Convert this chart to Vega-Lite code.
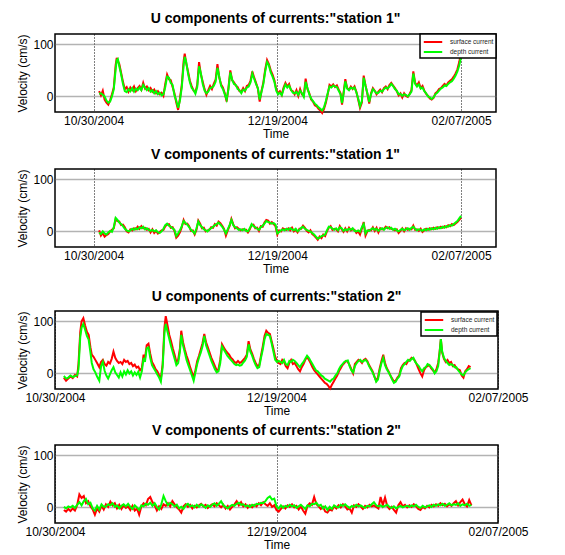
{
"$schema": "https://vega.github.io/schema/vega-lite/v6.json",
"padding": {"left": 16, "top": 11, "right": 5, "bottom": 0},
"config": {
  "font": "Liberation Sans",
  "view": {"stroke": "black", "strokeWidth": 1.5},
  "title": {"fontSize": 14, "fontWeight": "bold", "color": "black", "offset": 7, "anchor": "middle", "frame": "group"},
  "axis": {"labelFontSize": 12, "labelColor": "black", "titleFontSize": 12, "titleFontWeight": "normal", "titleColor": "black", "ticks": false, "domain": false, "grid": true, "labelFlush": false, "labelOverlap": false, "labelBound": false},
  "axisX": {"gridColor": "black", "gridDash": [1, 2], "gridWidth": 1, "gridOpacity": 1, "labelPadding": 3, "titlePadding": 2},
  "axisY": {"gridColor": "#666666", "gridDash": [1, 1], "gridWidth": 1.5, "gridOpacity": 1, "labelPadding": 2, "titlePadding": 3},
  "legend": {"orient": "top-right", "offset": 0, "padding": 2, "strokeColor": "black", "strokeWidth": 1.5, "fillColor": "white", "symbolType": "M-2,0H2", "symbolSize": 85, "symbolStrokeWidth": 1.5, "symbolOffset": 5, "labelFontSize": 6.5, "labelOffset": 11, "rowPadding": 0, "labelColor": "#222222"},
  "line": {"strokeWidth": 2, "clip": true}
},
"datasets": {
"u1": [
{"d":1.5,"s":10,"g":5},{"d":2,"s":2,"g":6},{"d":2.5,"s":11,"g":3},{"d":3,"s":-6,"g":0},{"d":3.5,"s":-12,"g":-8},{"d":4,"s":-16,"g":-12},{"d":4.5,"s":-7,"g":-10},{"d":5,"s":4,"g":0},{"d":5.5,"s":17,"g":14},{"d":6,"s":60,"g":52},{"d":6.3,"s":74,"g":70},{"d":6.6,"s":68,"g":72},{"d":7,"s":62,"g":58},{"d":7.5,"s":45,"g":42},{"d":8,"s":28,"g":24},{"d":8.5,"s":14,"g":10},{"d":9,"s":18,"g":8},{"d":9.5,"s":9,"g":14},{"d":10,"s":17,"g":10},{"d":10.5,"s":12,"g":16},{"d":11,"s":19,"g":9},{"d":11.5,"s":10,"g":15},{"d":12,"s":16,"g":12},{"d":12.5,"s":20,"g":17},{"d":13,"s":13,"g":12},{"d":13.5,"s":26,"g":22},{"d":14,"s":15,"g":17},{"d":14.5,"s":19,"g":12},{"d":15,"s":12,"g":16},{"d":15.5,"s":16,"g":9},{"d":16,"s":9,"g":12},{"d":16.5,"s":13,"g":6},{"d":17,"s":6,"g":10},{"d":17.5,"s":10,"g":4},{"d":18,"s":4,"g":7},{"d":18.5,"s":7,"g":2},{"d":19,"s":1,"g":4},{"d":19.5,"s":24,"g":18},{"d":20,"s":42,"g":38},{"d":20.5,"s":33,"g":36},{"d":21,"s":31,"g":26},{"d":21.5,"s":18,"g":22},{"d":22,"s":6,"g":2},{"d":22.5,"s":-12,"g":-8},{"d":23,"s":-26,"g":-22},{"d":23.5,"s":-4,"g":-8},{"d":24,"s":22,"g":18},{"d":24.5,"s":68,"g":60},{"d":24.8,"s":82,"g":76},{"d":25.2,"s":64,"g":66},{"d":25.7,"s":48,"g":44},{"d":26.2,"s":30,"g":27},{"d":26.7,"s":20,"g":16},{"d":27.2,"s":11,"g":12},{"d":27.7,"s":8,"g":5},{"d":28.2,"s":22,"g":18},{"d":28.7,"s":66,"g":58},{"d":29.2,"s":42,"g":44},{"d":29.7,"s":28,"g":24},{"d":30.2,"s":14,"g":11},{"d":30.7,"s":3,"g":6},{"d":31.2,"s":12,"g":9},{"d":31.7,"s":20,"g":16},{"d":32.2,"s":14,"g":17},{"d":32.7,"s":24,"g":20},{"d":33.2,"s":32,"g":28},{"d":33.7,"s":62,"g":55},{"d":34.2,"s":36,"g":38},{"d":34.7,"s":23,"g":20},{"d":35.2,"s":17,"g":14},{"d":35.7,"s":6,"g":4},{"d":36.2,"s":-10,"g":-6},{"d":36.7,"s":17,"g":14},{"d":37.2,"s":50,"g":46},{"d":37.7,"s":31,"g":32},{"d":38.2,"s":27,"g":24},{"d":38.7,"s":21,"g":22},{"d":39.2,"s":18,"g":14},{"d":39.7,"s":10,"g":12},{"d":40.2,"s":9,"g":6},{"d":40.7,"s":16,"g":13},{"d":41.2,"s":10,"g":11},{"d":41.7,"s":20,"g":17},{"d":42.2,"s":22,"g":19},{"d":42.7,"s":30,"g":27},{"d":43.2,"s":48,"g":44},{"d":43.7,"s":36,"g":34},{"d":44.2,"s":26,"g":24},{"d":44.7,"s":15,"g":16},{"d":45.2,"s":-10,"g":-6},{"d":45.7,"s":11,"g":9},{"d":46.2,"s":27,"g":24},{"d":46.7,"s":52,"g":48},{"d":47.2,"s":70,"g":66},{"d":47.7,"s":62,"g":60},{"d":48.2,"s":50,"g":46},{"d":48.7,"s":42,"g":38},{"d":49.2,"s":31,"g":28},{"d":49.7,"s":14,"g":11},{"d":50.2,"s":6,"g":4},{"d":50.7,"s":10,"g":7},{"d":51.2,"s":3,"g":2},{"d":51.7,"s":17,"g":14},{"d":52.2,"s":26,"g":23},{"d":52.7,"s":19,"g":17},{"d":53.2,"s":24,"g":21},{"d":53.7,"s":12,"g":13},{"d":54.2,"s":10,"g":7},{"d":54.7,"s":4,"g":6},{"d":55.2,"s":12,"g":9},{"d":55.7,"s":1,"g":3},{"d":56.2,"s":14,"g":11},{"d":56.7,"s":4,"g":6},{"d":57.2,"s":1,"g":-1},{"d":57.7,"s":34,"g":28},{"d":58.2,"s":14,"g":16},{"d":58.7,"s":6,"g":4},{"d":59.2,"s":-6,"g":-4},{"d":59.7,"s":-10,"g":-9},{"d":60.2,"s":-17,"g":-14},{"d":60.7,"s":-19,"g":-17},{"d":61.2,"s":-24,"g":-21},{"d":61.7,"s":-27,"g":-24},{"d":62.2,"s":-32,"g":-27},{"d":62.7,"s":-24,"g":-21},{"d":63.2,"s":-12,"g":-9},{"d":63.7,"s":4,"g":6},{"d":64.2,"s":22,"g":19},{"d":64.7,"s":19,"g":17},{"d":65.2,"s":23,"g":21},{"d":65.7,"s":18,"g":19},{"d":66.2,"s":21,"g":18},{"d":66.7,"s":13,"g":11},{"d":67.2,"s":6,"g":4},{"d":67.6,"s":-16,"g":-13},{"d":68,"s":6,"g":4},{"d":68.5,"s":33,"g":29},{"d":69,"s":16,"g":15},{"d":69.5,"s":13,"g":12},{"d":70,"s":19,"g":17},{"d":70.5,"s":14,"g":15},{"d":71,"s":19,"g":17},{"d":71.5,"s":9,"g":8},{"d":72,"s":-6,"g":-4},{"d":72.5,"s":-22,"g":-19},{"d":73,"s":-12,"g":-9},{"d":73.5,"s":40,"g":36},{"d":74,"s":21,"g":20},{"d":74.5,"s":5,"g":6},{"d":75,"s":-14,"g":-11},{"d":75.5,"s":6,"g":4},{"d":76,"s":16,"g":14},{"d":76.5,"s":11,"g":10},{"d":77,"s":4,"g":6},{"d":77.5,"s":9,"g":7},{"d":78,"s":13,"g":11},{"d":78.5,"s":8,"g":9},{"d":79,"s":16,"g":14},{"d":79.5,"s":19,"g":17},{"d":80,"s":14,"g":15},{"d":80.5,"s":22,"g":19},{"d":81,"s":26,"g":24},{"d":81.5,"s":21,"g":20},{"d":82,"s":16,"g":14},{"d":82.5,"s":10,"g":11},{"d":83,"s":2,"g":4},{"d":83.5,"s":6,"g":5},{"d":84,"s":-2,"g":1},{"d":84.5,"s":6,"g":4},{"d":85,"s":1,"g":3},{"d":85.5,"s":-1,"g":0},{"d":86,"s":5,"g":4},{"d":86.5,"s":12,"g":9},{"d":87,"s":48,"g":44},{"d":87.5,"s":26,"g":24},{"d":88,"s":21,"g":19},{"d":88.5,"s":27,"g":23},{"d":89,"s":16,"g":15},{"d":89.5,"s":20,"g":17},{"d":90,"s":11,"g":10},{"d":90.5,"s":5,"g":6},{"d":91,"s":1,"g":0},{"d":91.5,"s":-4,"g":-2},{"d":92,"s":-6,"g":-5},{"d":92.5,"s":-3,"g":-2},{"d":93,"s":6,"g":4},{"d":93.5,"s":9,"g":7},{"d":94,"s":14,"g":11},{"d":94.5,"s":16,"g":15},{"d":95,"s":20,"g":17},{"d":95.5,"s":24,"g":21},{"d":96,"s":21,"g":20},{"d":96.5,"s":27,"g":24},{"d":97,"s":30,"g":27},{"d":97.5,"s":33,"g":29},{"d":98,"s":38,"g":34},{"d":98.5,"s":44,"g":40},{"d":99,"s":52,"g":48},{"d":99.5,"s":66,"g":60},{"d":100,"s":85,"g":76}
],
"v1": [
{"d":1.5,"s":2,"g":-2},{"d":2,"s":-8,"g":-5},{"d":2.5,"s":-3,"g":0},{"d":3,"s":-10,"g":-4},{"d":3.5,"s":-7,"g":-6},{"d":4,"s":-5,"g":-2},{"d":4.5,"s":0,"g":1},{"d":5,"s":3,"g":-1},{"d":5.5,"s":6,"g":8},{"d":6,"s":24,"g":26},{"d":6.5,"s":20,"g":22},{"d":7,"s":19,"g":17},{"d":7.5,"s":12,"g":14},{"d":8,"s":13,"g":10},{"d":8.5,"s":8,"g":5},{"d":9,"s":0,"g":2},{"d":9.5,"s":-2,"g":0},{"d":10,"s":4,"g":2},{"d":10.5,"s":2,"g":5},{"d":11,"s":6,"g":3},{"d":11.5,"s":4,"g":6},{"d":12,"s":9,"g":4},{"d":12.5,"s":5,"g":8},{"d":13,"s":10,"g":6},{"d":13.5,"s":6,"g":9},{"d":14,"s":7,"g":4},{"d":14.5,"s":3,"g":6},{"d":15,"s":5,"g":3},{"d":15.5,"s":-2,"g":1},{"d":16,"s":4,"g":3},{"d":16.5,"s":-3,"g":0},{"d":17,"s":1,"g":2},{"d":17.5,"s":-4,"g":-2},{"d":18,"s":-1,"g":-3},{"d":18.5,"s":2,"g":0},{"d":19,"s":3,"g":5},{"d":19.5,"s":10,"g":12},{"d":20,"s":13,"g":15},{"d":20.5,"s":14,"g":11},{"d":21,"s":7,"g":9},{"d":21.5,"s":8,"g":6},{"d":22,"s":1,"g":3},{"d":22.5,"s":-12,"g":-9},{"d":23,"s":-8,"g":-4},{"d":23.5,"s":-2,"g":2},{"d":24,"s":8,"g":10},{"d":24.5,"s":22,"g":20},{"d":25,"s":14,"g":16},{"d":25.5,"s":15,"g":13},{"d":26,"s":10,"g":8},{"d":26.5,"s":1,"g":3},{"d":27,"s":2,"g":0},{"d":27.5,"s":-6,"g":-4},{"d":28,"s":3,"g":6},{"d":28.5,"s":21,"g":19},{"d":29,"s":15,"g":12},{"d":29.5,"s":6,"g":8},{"d":30,"s":7,"g":4},{"d":30.5,"s":0,"g":2},{"d":31,"s":2,"g":0},{"d":31.5,"s":3,"g":4},{"d":32,"s":8,"g":6},{"d":32.5,"s":7,"g":9},{"d":33,"s":14,"g":12},{"d":33.5,"s":11,"g":14},{"d":34,"s":19,"g":17},{"d":34.5,"s":16,"g":13},{"d":35,"s":11,"g":9},{"d":35.5,"s":5,"g":3},{"d":36,"s":-8,"g":-4},{"d":36.5,"s":2,"g":4},{"d":37,"s":10,"g":12},{"d":37.5,"s":24,"g":22},{"d":38,"s":14,"g":12},{"d":38.5,"s":6,"g":8},{"d":39,"s":8,"g":6},{"d":39.5,"s":5,"g":3},{"d":40,"s":2,"g":4},{"d":40.5,"s":4,"g":2},{"d":41,"s":3,"g":5},{"d":41.5,"s":3,"g":1},{"d":42,"s":-2,"g":0},{"d":42.5,"s":4,"g":6},{"d":43,"s":12,"g":14},{"d":43.5,"s":13,"g":10},{"d":44,"s":6,"g":8},{"d":44.5,"s":7,"g":5},{"d":45,"s":1,"g":3},{"d":45.5,"s":10,"g":8},{"d":46,"s":9,"g":11},{"d":46.5,"s":17,"g":15},{"d":47,"s":22,"g":20},{"d":47.5,"s":21,"g":18},{"d":48,"s":15,"g":17},{"d":48.5,"s":18,"g":15},{"d":49,"s":14,"g":16},{"d":49.5,"s":10,"g":13},{"d":50,"s":-6,"g":-4},{"d":50.5,"s":2,"g":-1},{"d":51,"s":0,"g":2},{"d":51.5,"s":6,"g":4},{"d":52,"s":4,"g":2},{"d":52.5,"s":3,"g":5},{"d":53,"s":6,"g":3},{"d":53.5,"s":2,"g":6},{"d":54,"s":7,"g":4},{"d":54.5,"s":0,"g":2},{"d":55,"s":3,"g":5},{"d":55.5,"s":-2,"g":0},{"d":56,"s":5,"g":3},{"d":56.5,"s":5,"g":7},{"d":57,"s":11,"g":9},{"d":57.5,"s":7,"g":5},{"d":58,"s":1,"g":3},{"d":58.5,"s":-2,"g":1},{"d":59,"s":2,"g":0},{"d":59.5,"s":-5,"g":-3},{"d":60,"s":-8,"g":-6},{"d":60.5,"s":-12,"g":-10},{"d":61,"s":-16,"g":-14},{"d":61.5,"s":-10,"g":-12},{"d":62,"s":-13,"g":-9},{"d":62.5,"s":-6,"g":-8},{"d":63,"s":-9,"g":-6},{"d":63.5,"s":0,"g":2},{"d":64,"s":7,"g":9},{"d":64.5,"s":10,"g":8},{"d":65,"s":3,"g":5},{"d":65.5,"s":5,"g":3},{"d":66,"s":4,"g":6},{"d":66.5,"s":0,"g":2},{"d":67,"s":10,"g":8},{"d":67.5,"s":4,"g":6},{"d":68,"s":-1,"g":1},{"d":68.5,"s":6,"g":4},{"d":69,"s":0,"g":2},{"d":69.5,"s":7,"g":5},{"d":70,"s":2,"g":3},{"d":70.5,"s":4,"g":6},{"d":71,"s":3,"g":1},{"d":71.5,"s":-3,"g":0},{"d":72,"s":0,"g":2},{"d":72.5,"s":-6,"g":-1},{"d":73,"s":5,"g":8},{"d":73.5,"s":18,"g":14},{"d":74,"s":-8,"g":-4},{"d":74.5,"s":0,"g":2},{"d":75,"s":3,"g":1},{"d":75.5,"s":2,"g":4},{"d":76,"s":8,"g":6},{"d":76.5,"s":1,"g":3},{"d":77,"s":7,"g":5},{"d":77.5,"s":-2,"g":1},{"d":78,"s":6,"g":4},{"d":78.5,"s":4,"g":6},{"d":79,"s":5,"g":3},{"d":79.5,"s":9,"g":7},{"d":80,"s":6,"g":8},{"d":80.5,"s":8,"g":5},{"d":81,"s":5,"g":7},{"d":81.5,"s":4,"g":3},{"d":82,"s":2,"g":5},{"d":82.5,"s":4,"g":2},{"d":83,"s":-3,"g":0},{"d":83.5,"s":1,"g":3},{"d":84,"s":6,"g":5},{"d":84.5,"s":0,"g":2},{"d":85,"s":6,"g":4},{"d":85.5,"s":3,"g":6},{"d":86,"s":5,"g":3},{"d":86.5,"s":4,"g":7},{"d":87,"s":11,"g":9},{"d":87.5,"s":3,"g":5},{"d":88,"s":4,"g":2},{"d":88.5,"s":1,"g":4},{"d":89,"s":5,"g":3},{"d":89.5,"s":-1,"g":1},{"d":90,"s":2,"g":4},{"d":90.5,"s":5,"g":2},{"d":91,"s":3,"g":5},{"d":91.5,"s":6,"g":3},{"d":92,"s":4,"g":6},{"d":92.5,"s":7,"g":4},{"d":93,"s":5,"g":7},{"d":93.5,"s":8,"g":5},{"d":94,"s":6,"g":8},{"d":94.5,"s":9,"g":6},{"d":95,"s":7,"g":9},{"d":95.5,"s":10,"g":7},{"d":96,"s":8,"g":10},{"d":96.5,"s":12,"g":9},{"d":97,"s":10,"g":12},{"d":97.5,"s":14,"g":11},{"d":98,"s":12,"g":14},{"d":98.5,"s":15,"g":17},{"d":99,"s":18,"g":20},{"d":99.5,"s":22,"g":25},{"d":100,"s":26,"g":30}
],
"u2": [
{"d":2,"s":-8,"g":-5},{"d":2.5,"s":-14,"g":-10},{"d":3,"s":-10,"g":-8},{"d":3.5,"s":-6,"g":-4},{"d":4,"s":-9,"g":-7},{"d":4.5,"s":-3,"g":-5},{"d":5,"s":-6,"g":-4},{"d":5.3,"s":18,"g":8},{"d":5.7,"s":80,"g":70},{"d":6,"s":100,"g":88},{"d":6.4,"s":106,"g":95},{"d":6.8,"s":92,"g":84},{"d":7.2,"s":80,"g":72},{"d":7.6,"s":74,"g":65},{"d":8,"s":50,"g":40},{"d":8.3,"s":36,"g":20},{"d":8.7,"s":32,"g":8},{"d":9.1,"s":26,"g":2},{"d":9.5,"s":20,"g":-6},{"d":10,"s":12,"g":-14},{"d":10.4,"s":22,"g":14},{"d":10.8,"s":26,"g":22},{"d":11.2,"s":18,"g":5},{"d":11.6,"s":15,"g":-4},{"d":12,"s":22,"g":-10},{"d":12.4,"s":19,"g":-2},{"d":12.8,"s":28,"g":6},{"d":13.2,"s":42,"g":12},{"d":13.6,"s":30,"g":2},{"d":14,"s":24,"g":-3},{"d":14.4,"s":20,"g":-8},{"d":14.8,"s":22,"g":2},{"d":15.2,"s":18,"g":-6},{"d":15.6,"s":26,"g":4},{"d":16,"s":22,"g":-2},{"d":16.4,"s":24,"g":6},{"d":16.8,"s":18,"g":0},{"d":17.2,"s":20,"g":4},{"d":17.6,"s":14,"g":-4},{"d":18,"s":17,"g":2},{"d":18.4,"s":11,"g":-3},{"d":18.8,"s":13,"g":3},{"d":19.2,"s":6,"g":-8},{"d":19.6,"s":10,"g":4},{"d":20,"s":36,"g":30},{"d":20.3,"s":28,"g":22},{"d":20.7,"s":54,"g":48},{"d":21.1,"s":57,"g":50},{"d":21.5,"s":38,"g":30},{"d":21.9,"s":22,"g":16},{"d":22.3,"s":16,"g":10},{"d":22.7,"s":8,"g":4},{"d":23.1,"s":4,"g":-2},{"d":23.5,"s":-4,"g":-8},{"d":23.9,"s":-10,"g":-16},{"d":24.3,"s":18,"g":12},{"d":24.7,"s":88,"g":78},{"d":25,"s":110,"g":95},{"d":25.4,"s":92,"g":80},{"d":25.8,"s":74,"g":66},{"d":26.2,"s":62,"g":52},{"d":26.6,"s":48,"g":40},{"d":27,"s":36,"g":28},{"d":27.4,"s":22,"g":16},{"d":27.8,"s":26,"g":20},{"d":28.2,"s":48,"g":42},{"d":28.5,"s":82,"g":74},{"d":28.9,"s":60,"g":54},{"d":29.3,"s":46,"g":40},{"d":29.7,"s":34,"g":26},{"d":30.1,"s":24,"g":16},{"d":30.5,"s":12,"g":6},{"d":30.9,"s":2,"g":-4},{"d":31.3,"s":-8,"g":-14},{"d":31.7,"s":6,"g":2},{"d":32.1,"s":24,"g":18},{"d":32.5,"s":34,"g":30},{"d":32.9,"s":46,"g":40},{"d":33.3,"s":58,"g":52},{"d":33.7,"s":76,"g":72},{"d":34.1,"s":60,"g":54},{"d":34.5,"s":50,"g":44},{"d":34.9,"s":40,"g":34},{"d":35.3,"s":30,"g":24},{"d":35.7,"s":22,"g":16},{"d":36.1,"s":14,"g":8},{"d":36.5,"s":6,"g":2},{"d":36.9,"s":8,"g":4},{"d":37.3,"s":26,"g":20},{"d":37.7,"s":56,"g":52},{"d":38.1,"s":50,"g":46},{"d":38.5,"s":44,"g":40},{"d":38.9,"s":40,"g":34},{"d":39.3,"s":36,"g":30},{"d":39.7,"s":30,"g":26},{"d":40.1,"s":27,"g":22},{"d":40.5,"s":22,"g":18},{"d":40.9,"s":20,"g":16},{"d":41.3,"s":24,"g":17},{"d":41.7,"s":20,"g":15},{"d":42.1,"s":22,"g":16},{"d":42.5,"s":26,"g":21},{"d":42.9,"s":30,"g":25},{"d":43.3,"s":36,"g":32},{"d":43.7,"s":62,"g":56},{"d":44.1,"s":46,"g":42},{"d":44.5,"s":38,"g":34},{"d":44.9,"s":28,"g":24},{"d":45.3,"s":20,"g":16},{"d":45.7,"s":14,"g":10},{"d":46.1,"s":16,"g":12},{"d":46.5,"s":34,"g":30},{"d":46.9,"s":52,"g":46},{"d":47.3,"s":72,"g":66},{"d":47.7,"s":82,"g":76},{"d":48.1,"s":78,"g":74},{"d":48.5,"s":76,"g":72},{"d":48.9,"s":62,"g":58},{"d":49.3,"s":48,"g":42},{"d":49.7,"s":32,"g":26},{"d":50.1,"s":24,"g":22},{"d":50.5,"s":20,"g":24},{"d":50.9,"s":18,"g":22},{"d":51.3,"s":26,"g":20},{"d":51.7,"s":22,"g":26},{"d":52.1,"s":14,"g":18},{"d":52.5,"s":10,"g":16},{"d":52.9,"s":20,"g":24},{"d":53.3,"s":26,"g":22},{"d":53.7,"s":18,"g":26},{"d":54.1,"s":20,"g":24},{"d":54.5,"s":14,"g":20},{"d":54.9,"s":8,"g":16},{"d":55.3,"s":4,"g":12},{"d":55.7,"s":12,"g":18},{"d":56.1,"s":18,"g":22},{"d":56.5,"s":26,"g":28},{"d":56.9,"s":32,"g":34},{"d":57.3,"s":26,"g":30},{"d":57.7,"s":20,"g":24},{"d":58.1,"s":12,"g":18},{"d":58.5,"s":6,"g":12},{"d":58.9,"s":2,"g":6},{"d":59.3,"s":-2,"g":4},{"d":59.7,"s":-6,"g":0},{"d":60.1,"s":-10,"g":-4},{"d":60.5,"s":-14,"g":-6},{"d":60.9,"s":-18,"g":-10},{"d":61.3,"s":-20,"g":-12},{"d":61.7,"s":-24,"g":-14},{"d":62.1,"s":-29,"g":-16},{"d":62.5,"s":-22,"g":-12},{"d":62.9,"s":-16,"g":-10},{"d":63.3,"s":-10,"g":-4},{"d":63.7,"s":-4,"g":0},{"d":64.1,"s":4,"g":8},{"d":64.5,"s":10,"g":14},{"d":64.9,"s":16,"g":18},{"d":65.3,"s":20,"g":22},{"d":65.7,"s":24,"g":24},{"d":66.1,"s":22,"g":25},{"d":66.5,"s":16,"g":14},{"d":66.9,"s":8,"g":6},{"d":67.3,"s":0,"g":2},{"d":67.7,"s":18,"g":14},{"d":68.1,"s":22,"g":20},{"d":68.5,"s":26,"g":24},{"d":68.9,"s":24,"g":26},{"d":69.3,"s":20,"g":22},{"d":69.7,"s":26,"g":24},{"d":70.1,"s":28,"g":26},{"d":70.5,"s":24,"g":22},{"d":70.9,"s":16,"g":14},{"d":71.3,"s":10,"g":8},{"d":71.7,"s":4,"g":2},{"d":72.1,"s":-6,"g":-6},{"d":72.5,"s":-14,"g":-16},{"d":72.9,"s":-8,"g":-12},{"d":73.3,"s":10,"g":6},{"d":73.7,"s":24,"g":20},{"d":74.1,"s":36,"g":30},{"d":74.5,"s":20,"g":16},{"d":74.9,"s":10,"g":8},{"d":75.3,"s":4,"g":2},{"d":75.7,"s":-4,"g":-4},{"d":76.1,"s":-10,"g":-12},{"d":76.5,"s":-16,"g":-18},{"d":76.9,"s":-14,"g":-16},{"d":77.3,"s":-8,"g":-10},{"d":77.7,"s":-4,"g":-6},{"d":78.1,"s":10,"g":6},{"d":78.5,"s":16,"g":14},{"d":78.9,"s":20,"g":18},{"d":79.3,"s":18,"g":22},{"d":79.7,"s":24,"g":26},{"d":80.1,"s":26,"g":24},{"d":80.5,"s":30,"g":28},{"d":80.9,"s":28,"g":30},{"d":81.3,"s":24,"g":22},{"d":81.7,"s":16,"g":18},{"d":82.1,"s":8,"g":14},{"d":82.5,"s":0,"g":8},{"d":82.9,"s":-6,"g":4},{"d":83.3,"s":6,"g":10},{"d":83.7,"s":12,"g":12},{"d":84.1,"s":14,"g":18},{"d":84.5,"s":16,"g":16},{"d":84.9,"s":10,"g":12},{"d":85.3,"s":6,"g":8},{"d":85.7,"s":2,"g":0},{"d":86.1,"s":8,"g":4},{"d":86.5,"s":20,"g":14},{"d":86.8,"s":40,"g":38},{"d":87.1,"s":66,"g":66},{"d":87.4,"s":40,"g":42},{"d":87.8,"s":28,"g":30},{"d":88.2,"s":22,"g":24},{"d":88.6,"s":26,"g":20},{"d":89,"s":20,"g":16},{"d":89.4,"s":22,"g":18},{"d":89.8,"s":14,"g":16},{"d":90.2,"s":16,"g":12},{"d":90.6,"s":10,"g":12},{"d":91,"s":8,"g":6},{"d":91.4,"s":6,"g":2},{"d":91.8,"s":-4,"g":-2},{"d":92.2,"s":-8,"g":-4},{"d":92.6,"s":4,"g":2},{"d":93,"s":8,"g":6},{"d":93.4,"s":14,"g":8},{"d":93.8,"s":12,"g":10}
],
"v2": [
{"d":2,"s":-5,"g":1},{"d":2.5,"s":-8,"g":-2},{"d":3,"s":-3,"g":2},{"d":3.5,"s":-7,"g":0},{"d":4,"s":-2,"g":3},{"d":4.5,"s":-6,"g":-1},{"d":5,"s":4,"g":5},{"d":5.5,"s":25,"g":10},{"d":6,"s":18,"g":4},{"d":6.5,"s":22,"g":12},{"d":7,"s":8,"g":16},{"d":7.5,"s":12,"g":6},{"d":8,"s":2,"g":9},{"d":8.5,"s":-4,"g":-2},{"d":9,"s":-14,"g":-6},{"d":9.5,"s":-2,"g":3},{"d":10,"s":-8,"g":-4},{"d":10.5,"s":3,"g":6},{"d":11,"s":-4,"g":1},{"d":11.5,"s":6,"g":2},{"d":12,"s":1,"g":6},{"d":12.5,"s":11,"g":4},{"d":13,"s":4,"g":8},{"d":13.5,"s":8,"g":1},{"d":14,"s":-2,"g":4},{"d":14.5,"s":5,"g":-2},{"d":15,"s":-3,"g":3},{"d":15.5,"s":4,"g":6},{"d":16,"s":-1,"g":2},{"d":16.5,"s":2,"g":7},{"d":17,"s":-5,"g":1},{"d":17.5,"s":3,"g":-3},{"d":18,"s":-6,"g":4},{"d":18.5,"s":-2,"g":0},{"d":19,"s":-14,"g":-5},{"d":19.5,"s":2,"g":4},{"d":20,"s":8,"g":2},{"d":20.5,"s":4,"g":7},{"d":21,"s":16,"g":5},{"d":21.5,"s":20,"g":9},{"d":22,"s":10,"g":3},{"d":22.5,"s":4,"g":8},{"d":23,"s":-6,"g":1},{"d":23.5,"s":2,"g":-4},{"d":24,"s":-3,"g":6},{"d":24.5,"s":6,"g":22},{"d":25,"s":3,"g":12},{"d":25.5,"s":8,"g":4},{"d":26,"s":2,"g":9},{"d":26.5,"s":12,"g":6},{"d":27,"s":6,"g":2},{"d":27.5,"s":0,"g":5},{"d":28,"s":-4,"g":-2},{"d":28.5,"s":-10,"g":1},{"d":29,"s":2,"g":-3},{"d":29.5,"s":6,"g":4},{"d":30,"s":1,"g":7},{"d":30.5,"s":5,"g":2},{"d":31,"s":-2,"g":4},{"d":31.5,"s":3,"g":0},{"d":32,"s":0,"g":5},{"d":32.5,"s":4,"g":1},{"d":33,"s":7,"g":6},{"d":33.5,"s":2,"g":3},{"d":34,"s":5,"g":-1},{"d":34.5,"s":-1,"g":4},{"d":35,"s":3,"g":1},{"d":35.5,"s":6,"g":5},{"d":36,"s":2,"g":8},{"d":36.5,"s":8,"g":3},{"d":37,"s":4,"g":7},{"d":37.5,"s":0,"g":12},{"d":38,"s":5,"g":4},{"d":38.5,"s":-2,"g":1},{"d":39,"s":3,"g":-2},{"d":39.5,"s":-4,"g":2},{"d":40,"s":1,"g":5},{"d":40.5,"s":6,"g":3},{"d":41,"s":12,"g":7},{"d":41.5,"s":4,"g":9},{"d":42,"s":10,"g":5},{"d":42.5,"s":2,"g":6},{"d":43,"s":6,"g":2},{"d":43.5,"s":-1,"g":4},{"d":44,"s":4,"g":1},{"d":44.5,"s":0,"g":5},{"d":45,"s":5,"g":3},{"d":45.5,"s":2,"g":7},{"d":46,"s":8,"g":6},{"d":46.5,"s":4,"g":9},{"d":47,"s":10,"g":8},{"d":47.5,"s":6,"g":12},{"d":48,"s":3,"g":18},{"d":48.5,"s":8,"g":21},{"d":49,"s":1,"g":15},{"d":49.5,"s":4,"g":17},{"d":50,"s":-5,"g":2},{"d":50.5,"s":-8,"g":-2},{"d":51,"s":-3,"g":4},{"d":51.5,"s":2,"g":-1},{"d":52,"s":-2,"g":3},{"d":52.5,"s":4,"g":1},{"d":53,"s":1,"g":5},{"d":53.5,"s":6,"g":2},{"d":54,"s":0,"g":4},{"d":54.5,"s":3,"g":-1},{"d":55,"s":-4,"g":2},{"d":55.5,"s":2,"g":5},{"d":56,"s":-6,"g":1},{"d":56.5,"s":-12,"g":-3},{"d":57,"s":3,"g":4},{"d":57.5,"s":8,"g":2},{"d":58,"s":5,"g":7},{"d":58.5,"s":20,"g":6},{"d":59,"s":6,"g":9},{"d":59.5,"s":2,"g":3},{"d":60,"s":-3,"g":5},{"d":60.5,"s":1,"g":-2},{"d":61,"s":-8,"g":2},{"d":61.5,"s":-10,"g":-5},{"d":62,"s":-4,"g":1},{"d":62.5,"s":-6,"g":-3},{"d":63,"s":2,"g":4},{"d":63.5,"s":-2,"g":1},{"d":64,"s":4,"g":0},{"d":64.5,"s":0,"g":5},{"d":65,"s":6,"g":3},{"d":65.5,"s":2,"g":6},{"d":66,"s":-4,"g":2},{"d":66.5,"s":-2,"g":-1},{"d":67,"s":-10,"g":3},{"d":67.5,"s":4,"g":1},{"d":68,"s":1,"g":5},{"d":68.5,"s":6,"g":2},{"d":69,"s":2,"g":4},{"d":69.5,"s":-3,"g":1},{"d":70,"s":3,"g":-1},{"d":70.5,"s":0,"g":3},{"d":71,"s":5,"g":2},{"d":71.5,"s":2,"g":6},{"d":72,"s":4,"g":10},{"d":72.5,"s":1,"g":4},{"d":73,"s":-2,"g":2},{"d":73.5,"s":20,"g":4},{"d":74,"s":4,"g":1},{"d":74.5,"s":19,"g":3},{"d":75,"s":2,"g":5},{"d":75.5,"s":-3,"g":1},{"d":76,"s":1,"g":-1},{"d":76.5,"s":-5,"g":2},{"d":77,"s":-10,"g":-2},{"d":77.5,"s":4,"g":1},{"d":78,"s":10,"g":3},{"d":78.5,"s":2,"g":0},{"d":79,"s":5,"g":2},{"d":79.5,"s":0,"g":3},{"d":80,"s":4,"g":1},{"d":80.5,"s":1,"g":4},{"d":81,"s":6,"g":2},{"d":81.5,"s":2,"g":5},{"d":82,"s":-3,"g":1},{"d":82.5,"s":-5,"g":-1},{"d":83,"s":1,"g":3},{"d":83.5,"s":-2,"g":0},{"d":84,"s":3,"g":2},{"d":84.5,"s":0,"g":4},{"d":85,"s":5,"g":1},{"d":85.5,"s":2,"g":5},{"d":86,"s":6,"g":3},{"d":86.5,"s":3,"g":6},{"d":87,"s":8,"g":4},{"d":87.5,"s":4,"g":7},{"d":88,"s":7,"g":3},{"d":88.5,"s":2,"g":5},{"d":89,"s":6,"g":8},{"d":89.5,"s":3,"g":4},{"d":90,"s":8,"g":6},{"d":90.5,"s":12,"g":5},{"d":91,"s":4,"g":8},{"d":91.5,"s":10,"g":3},{"d":92,"s":15,"g":6},{"d":92.5,"s":6,"g":4},{"d":93,"s":2,"g":7},{"d":93.5,"s":14,"g":3},{"d":94,"s":4,"g":5}
]
},
"spacing": 14,
"resolve": {"scale": {"color": "independent"}, "legend": {"color": "independent"}},
"vconcat": [
 {"spacing": 7,
  "resolve": {"scale": {"color": "independent"}, "legend": {"color": "independent"}},
  "vconcat": [
  {"width": 441, "height": 78, "title": "U components of currents:\"station 1\"",
   "data": {"name": "u1"},
   "encoding": {"x": {"field": "d", "type": "quantitative", "scale": {"domain": [-10.5, 109.5], "nice": false, "zero": false}, "axis": {"values": [0, 50, 100], "labelExpr": "timeFormat(datetime(2004, 9, 30 + datum.value), '%m/%d/%Y')", "title": "Time"}}},
   "layer": [
    {"mark": "line", "encoding": {"y": {"field": "s", "type": "quantitative", "scale": {"domain": [-30, 120], "nice": false, "zero": false}, "axis": {"values": [0, 50, 100], "title": "Velocity (cm/s)"}}, "color": {"datum": "surface current", "scale": {"domain": ["surface current", "depth current"], "range": ["#ff0000", "#00ff00"]}, "legend": {"title": null}}}},
    {"mark": "line", "encoding": {"y": {"field": "g", "type": "quantitative", "title": "Velocity (cm/s)"}, "color": {"datum": "depth current"}}}
   ]},
  {"width": 441, "height": 78, "title": "V components of currents:\"station 1\"",
   "data": {"name": "v1"},
   "encoding": {"x": {"field": "d", "type": "quantitative", "scale": {"domain": [-10.5, 109.5], "nice": false, "zero": false}, "axis": {"values": [0, 50, 100], "labelExpr": "timeFormat(datetime(2004, 9, 30 + datum.value), '%m/%d/%Y')", "title": "Time"}}},
   "layer": [
    {"mark": "line", "encoding": {"y": {"field": "s", "type": "quantitative", "scale": {"domain": [-30, 120], "nice": false, "zero": false}, "axis": {"values": [0, 50, 100], "title": "Velocity (cm/s)"}}, "color": {"datum": "surface current", "scale": {"domain": ["surface current", "depth current"], "range": ["#ff0000", "#00ff00"]}, "legend": null}}},
    {"mark": "line", "encoding": {"y": {"field": "g", "type": "quantitative", "title": "Velocity (cm/s)"}, "color": {"datum": "depth current", "legend": null}}}
   ]}
 ]},
 {"spacing": 6,
  "resolve": {"scale": {"color": "independent"}, "legend": {"color": "independent"}},
  "vconcat": [
  {"width": 443, "height": 78, "title": "U components of currents:\"station 2\"",
   "data": {"name": "u2"},
   "encoding": {"x": {"field": "d", "type": "quantitative", "scale": {"domain": [0, 100], "nice": false, "zero": false}, "axis": {"values": [0, 50, 100], "labelExpr": "timeFormat(datetime(2004, 9, 30 + datum.value), '%m/%d/%Y')", "title": "Time"}}},
   "layer": [
    {"mark": "line", "encoding": {"y": {"field": "s", "type": "quantitative", "scale": {"domain": [-30, 120], "nice": false, "zero": false}, "axis": {"values": [0, 50, 100], "title": "Velocity (cm/s)"}}, "color": {"datum": "surface current", "scale": {"domain": ["surface current", "depth current"], "range": ["#ff0000", "#00ff00"]}, "legend": {"title": null, "offset": 1}}}},
    {"mark": "line", "encoding": {"y": {"field": "g", "type": "quantitative", "title": "Velocity (cm/s)"}, "color": {"datum": "depth current"}}}
   ]},
  {"width": 443, "height": 78, "title": "V components of currents:\"station 2\"",
   "data": {"name": "v2"},
   "encoding": {"x": {"field": "d", "type": "quantitative", "scale": {"domain": [0, 100], "nice": false, "zero": false}, "axis": {"values": [0, 50, 100], "labelExpr": "timeFormat(datetime(2004, 9, 30 + datum.value), '%m/%d/%Y')", "title": "Time"}}},
   "layer": [
    {"mark": "line", "encoding": {"y": {"field": "s", "type": "quantitative", "scale": {"domain": [-30, 120], "nice": false, "zero": false}, "axis": {"values": [0, 50, 100], "title": "Velocity (cm/s)"}}, "color": {"datum": "surface current", "scale": {"domain": ["surface current", "depth current"], "range": ["#ff0000", "#00ff00"]}, "legend": null}}},
    {"mark": "line", "encoding": {"y": {"field": "g", "type": "quantitative", "title": "Velocity (cm/s)"}, "color": {"datum": "depth current", "legend": null}}}
   ]}
 ]}
]
}
